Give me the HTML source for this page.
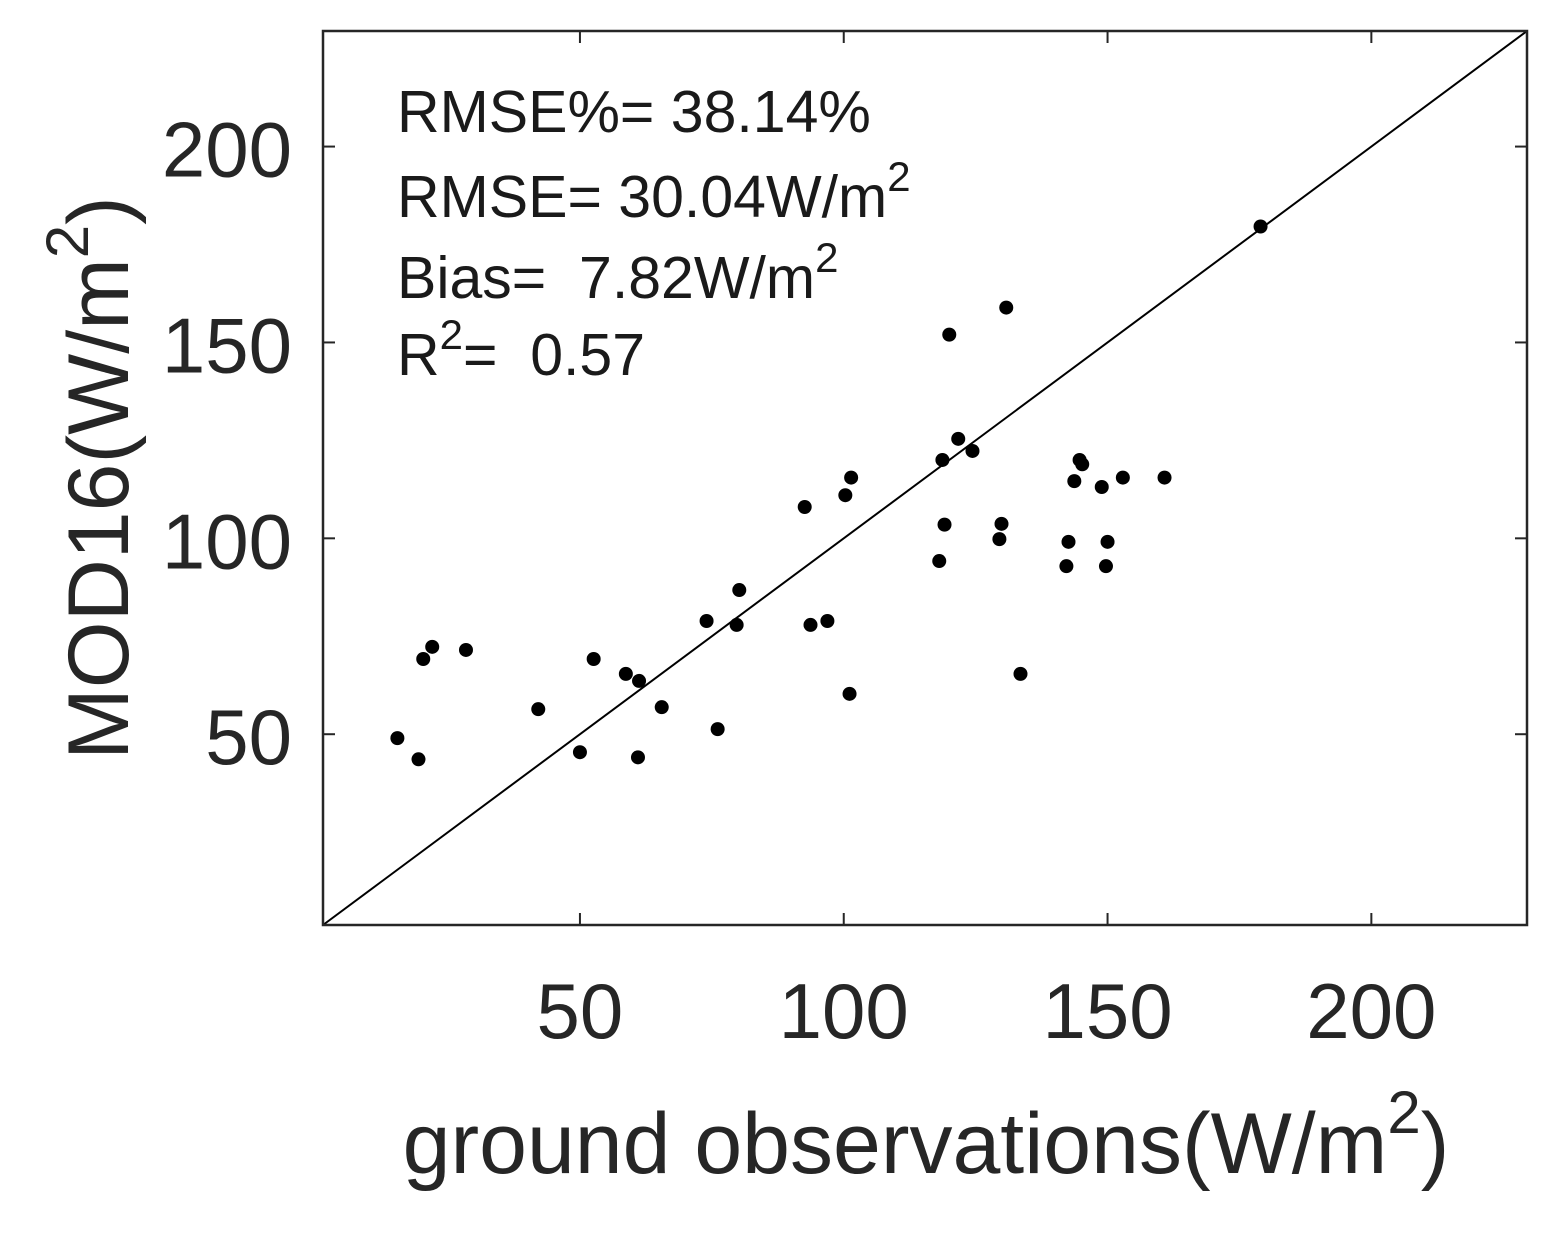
<!DOCTYPE html>
<html><head><meta charset="utf-8"><style>
html,body{margin:0;padding:0;background:#fff;}
svg{display:block;font-family:"Liberation Sans",Arial,sans-serif;}
</style></head><body>
<svg id="chart" width="1568" height="1237" viewBox="0 0 1568 1237">
<rect x="0" y="0" width="1568" height="1237" fill="#fff"/>
<g id="marks"></g>
<rect x="323" y="31" width="1204" height="894" fill="none" stroke="#262626" stroke-width="2.5"/>
<g id="ticks"></g>
<g font-size="59" fill="#1a1a1a">
<text x="397" y="132">RMSE%= 38.14%</text>
<text x="397" y="217">RMSE= 30.04W/m<tspan dy="-26" font-size="42">2</tspan></text>
<text x="397" y="298">Bias=&#160; 7.82W/m<tspan dy="-26" font-size="42">2</tspan></text>
<text x="397" y="375">R<tspan dy="-26" font-size="42">2</tspan><tspan dy="26">=&#160; 0.57</tspan></text>
</g>
<text x="926" y="1173" text-anchor="middle" font-size="86" fill="#262626">ground observations(W/m<tspan dy="-40" font-size="60">2</tspan><tspan dy="40">)</tspan></text>
<text transform="translate(128,478) rotate(-90)" text-anchor="middle" font-size="86" fill="#262626">MOD16(W/m<tspan dy="-40" font-size="60">2</tspan><tspan dy="40">)</tspan></text>
<script>
const obsX=[15.4,19.4,20.3,22.0,28.4,42.1,50.0,52.6,58.7,61.2,61.0,65.5,74.0,76.1,79.7,80.2,92.6,93.7,96.9,100.3,101.4,101.1,118.1,118.7,119.1,120.0,121.7,124.4,129.5,129.9,130.8,133.5,142.2,142.6,143.7,144.7,145.2,148.9,149.7,150.0,152.9,160.8,179.0];
const modY=[49.0,43.6,69.2,72.3,71.5,56.4,45.4,69.2,65.4,63.6,44.1,56.9,78.9,51.3,77.9,86.8,108.0,77.9,78.9,111.0,115.5,60.3,94.2,120.0,103.5,152.0,125.4,122.3,99.8,103.7,158.9,65.4,92.9,99.1,114.6,120.0,118.9,113.1,92.9,99.1,115.5,115.5,179.6];
const xTicks=[50,100,150,200];
const yTicks=[50,100,150,200];
const DMIN=1.3,DMAX=229.5;
const L=323,R=1527,T=31,B=925;
const sx=v=>L+(v-DMIN)/(DMAX-DMIN)*(R-L);
const sy=v=>B-(v-DMIN)/(DMAX-DMIN)*(B-T);
const NS="http://www.w3.org/2000/svg";
const marks=document.getElementById('marks');
const ticks=document.getElementById('ticks');
function mk(t,a,p){const e=document.createElementNS(NS,t);for(const k in a)e.setAttribute(k,a[k]);p.appendChild(e);return e;}
const line=mk('line',{x1:sx(DMIN),y1:sy(DMIN),x2:sx(DMAX),y2:sy(DMAX),stroke:'#000','stroke-width':2},marks);


obsX.forEach((x,i)=>{
  const c=mk('circle',{cx:sx(x),cy:sy(modY[i]),r:7,fill:'#000'},marks);
  
  
});
xTicks.forEach(v=>{
  const x=sx(v);
  const t1=mk('line',{x1:x,y1:B,x2:x,y2:B-12,stroke:'#262626','stroke-width':2},ticks);
  
  
  const t2=mk('line',{x1:x,y1:T,x2:x,y2:T+12,stroke:'#262626','stroke-width':2},ticks);
  
  
  const tx=mk('text',{x:x,y:1038,'text-anchor':'middle','font-size':78,fill:'#262626'},ticks);
  tx.textContent=v;
  
  
});
yTicks.forEach(v=>{
  const y=sy(v);
  const t1=mk('line',{x1:L,y1:y,x2:L+12,y2:y,stroke:'#262626','stroke-width':2},ticks);
  
  
  const t2=mk('line',{x1:R,y1:y,x2:R-12,y2:y,stroke:'#262626','stroke-width':2},ticks);
  
  
  const tx=mk('text',{x:292,y:y+30,'text-anchor':'end','font-size':78,fill:'#262626'},ticks);
  tx.textContent=v;
  
  
});
</script>
</svg>
</body></html>
